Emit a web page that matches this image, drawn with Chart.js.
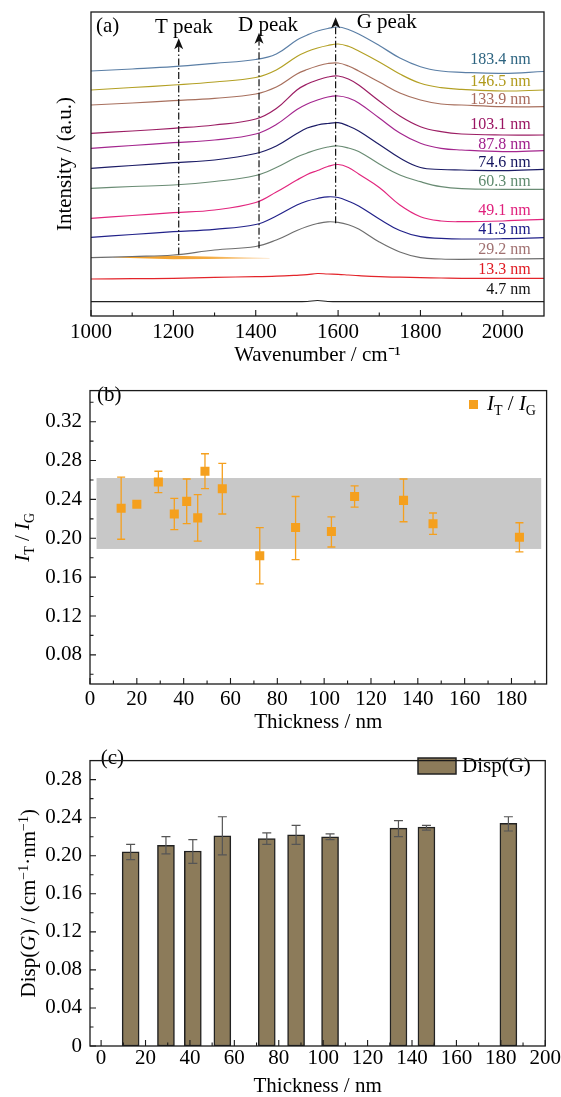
<!DOCTYPE html>
<html><head><meta charset="utf-8">
<script src="https://cdn.jsdelivr.net/npm/chart.js@4.4.1/dist/chart.umd.min.js"></script>
<style>
html,body{margin:0;padding:0;background:#fff;overflow:hidden;width:561px;height:1097px}
.wrap{position:absolute;left:0;width:561px}
canvas{display:block}
</style></head><body>
<div class="wrap" style="top:0;height:370px"><canvas id="ca" width="561" height="370"></canvas></div>
<div class="wrap" style="top:370px;height:370px"><canvas id="cb" width="561" height="370"></canvas></div>
<div class="wrap" style="top:740px;height:360px"><canvas id="cc" width="561" height="360"></canvas></div>
<script>
// ---------- DATA: panel (a) Raman spectra (stacked, arbitrary units) ----------
const wavenumber = [1000,1100,1200,1300,1400,1450,1500,1525,1550,1575,1600,1625,1650,1700,1750,1800,1850,1900,2000,2100];
const spectrumNames = ['183.4 nm','146.5 nm','133.9 nm','103.1 nm','87.8 nm','74.6 nm','60.3 nm','49.1 nm','41.3 nm','29.2 nm','13.3 nm','4.7 nm'];
const spec183_4 = [245,247,249.3,252.7,256.5,262,276,281,285,287.5,289,286.5,282,270.5,258,249.3,245,243.7,242.7,244.5];
const spec146_5 = [226,228.5,231,234,238.5,246,259.5,264.5,268,270.5,272,269.7,265,254,242,232.7,228.3,226.7,225,226];
const spec133_9 = [211,213,215.3,217.7,222,229,242,246.5,250,252.5,253,250,245,234,223,216,212,211,209.3,209.3];
const spec103_1 = [182.7,185,187.7,191,197,207.5,226,232,236,239,240,237,231,215,200,189.3,184.3,182,181,181];
const spec87_8  = [167.7,170.5,173.3,176,182,191.5,206.5,212,216,219,220,218,213,198,183,172.7,167.7,166,164.3,165.3];
const spec74_6  = [147.7,150.5,153.3,156,162.5,170,182.5,188,191,192.5,193.3,190,185,171.5,158,148.5,146.5,146,145.3,146.7];
const spec60_3  = [127.7,129.5,131,134.5,140.5,148.5,159,163,166.5,169,170,168,164.5,152,141,134.3,129.3,127.3,126.7,126.7];
const spec49_1  = [97.7,100.5,103.3,106,113.5,124,136,141.5,145.5,149.5,151.5,148.5,142,128.5,111,99.3,95,94.3,95,96.7];
const spec41_3  = [78.7,81.5,84.3,86.7,91.5,100,111,115,117.5,119.2,118.5,114.8,110,97,85.5,79.3,77.7,77,77.3,78.3];
const spec29_2  = [58.3,59.5,61,66,69.5,76,85.5,89.5,92.5,94.2,93.7,91.3,87,74,64,58.3,57,56.7,57,57.3];
const spec13_3  = [37,37.3,37.7,38.7,39.3,39.8,40.7,41.3,42.5,42,41.7,41,40.3,39.3,38.8,38.3,38,37.7,37.7,37.7];
const spec4_7   = [14.3,14.3,14.4,14.3,14.4,14.3,14.4,14.5,15.5,14.5,14.4,14.3,14.4,14.3,14.3,14.4,14.3,14.3,14.3,14.3];
const wedgeWn = [1054,1200,1434];
const wedgeTop = [58.8,60.3,58.0];
const wedgeBottom = [58.4,56.8,57.4];
const peakNames = ['T peak','D peak','G peak'];
const peakWn = [1213,1408,1594];
const peakLineFrom = [61.5,67.7,92.7];
const peakLineTo = [277.7,283.3,298.7];
const waveMajorTicks = [1000,1200,1400,1600,1800,2000];
const waveMinorTicks = [1100,1300,1500,1700,1900];

// ---------- DATA: panel (b) I_T / I_G ----------
const thicknessB = [13.3,20.0,29.2,36.0,41.3,46.0,49.1,56.5,72.5,87.8,103.1,113.0,133.9,146.5,183.4];
const ratioTG    = [0.231,0.235,0.258,0.225,0.238,0.221,0.269,0.251,0.182,0.211,0.207,0.243,0.239,0.215,0.201];
const ratioHigh  = [0.263,0.237,0.269,0.241,0.261,0.245,0.287,0.277,0.211,0.243,0.222,0.254,0.261,0.226,0.216];
const ratioLow   = [0.199,0.233,0.247,0.209,0.215,0.197,0.251,0.225,0.153,0.178,0.191,0.232,0.217,0.204,0.186];
const bandX = [2.8,192.7];
const bandY = [0.189,0.262];
const thickMajorB = [0,20,40,60,80,100,120,140,160,180];
const thickMinorB = [10,30,50,70,90,110,130,150,170,190];
const ratioMajor = [0.08,0.12,0.16,0.20,0.24,0.28,0.32];
const ratioMinor = [0.06,0.10,0.14,0.18,0.22,0.26,0.30,0.34];

// ---------- DATA: panel (c) Disp(G) ----------
const thicknessC = [13.3,29.2,41.3,54.6,74.6,87.8,103.1,133.9,146.5,183.4];
const dispG      = [0.204,0.211,0.205,0.221,0.218,0.222,0.220,0.229,0.230,0.234];
const dispHigh   = [0.212,0.220,0.217,0.241,0.224,0.232,0.223,0.237,0.232,0.241];
const dispLow    = [0.196,0.202,0.192,0.201,0.212,0.212,0.217,0.220,0.227,0.226];
const thickMajorC = [0,20,40,60,80,100,120,140,160,180,200];
const thickMinorC = [10,30,50,70,90,110,130,150,170,190];
const dispMajor = [0,0.04,0.08,0.12,0.16,0.20,0.24,0.28];
const dispMinor = [0.02,0.06,0.10,0.14,0.18,0.22,0.26];

// ---------- styles ----------
const FONT = "'Liberation Serif','Times New Roman',serif";
Chart.defaults.font.family = FONT;
Chart.defaults.font.size = 21;
Chart.defaults.color = '#000';
const spectra = [spec183_4,spec146_5,spec133_9,spec103_1,spec87_8,spec74_6,spec60_3,spec49_1,spec41_3,spec29_2,spec13_3,spec4_7];
const curveColors = ['#5b7fa6','#b3a024','#a8705e','#9c1e64','#a4268e','#1c1c66','#6a8c74','#e2267e','#22228a','#6e6e6e','#e3242a','#222222'];
const labelColors = ['#2d6480','#b09a1c','#a86a5c','#9a1462','#a0208c','#14145e','#5e8a6e','#e0207c','#1a1a86','#a07070','#e01a22','#111111'];
const labelY = [59.3,81.7,100,125,145,162.3,181.7,211,229.3,250,270,290];
const peakTextPos = [[155,27.3],[238,25],[356.7,22.7]];

function tickList(arr){ return arr.map(v=>({value:v})); }

function frameTicks(id, spec){
  return { id:'frame_'+id, afterDatasetsDraw(chart){
    const {ctx, chartArea:a, scales:{x,y}} = chart;
    ctx.save();
    ctx.strokeStyle = '#1a1a1a';
    ctx.lineWidth = 1.1;
    ctx.beginPath();
    (spec.xMajor||[]).forEach(v=>{const p=x.getPixelForValue(v); ctx.moveTo(p,a.bottom); ctx.lineTo(p,a.bottom-6);});
    (spec.xMinor||[]).forEach(v=>{const p=x.getPixelForValue(v); ctx.moveTo(p,a.bottom); ctx.lineTo(p,a.bottom-3.5);});
    (spec.yMajor||[]).forEach(v=>{const p=y.getPixelForValue(v); ctx.moveTo(a.left,p); ctx.lineTo(a.left+6,p);});
    (spec.yMinor||[]).forEach(v=>{const p=y.getPixelForValue(v); ctx.moveTo(a.left,p); ctx.lineTo(a.left+3.5,p);});
    ctx.stroke();
    ctx.lineWidth = 1.3;
    ctx.strokeRect(a.left, a.top, a.right-a.left, a.bottom-a.top);
    ctx.restore();
  }};
}

function drawRich(ctx, parts, x, y, o){
  const base = o.size;
  const fontOf = p => (p.it?'italic ':'') + ((p.sub||p.sup)? Math.round(base*0.66) : base) + 'px ' + FONT;
  let w = 0;
  parts.forEach(p=>{ ctx.font = fontOf(p); p.w = ctx.measureText(p.t).width; w += p.w; });
  ctx.save();
  ctx.translate(x,y);
  if (o.rot) ctx.rotate(o.rot);
  ctx.textBaseline = 'alphabetic'; ctx.textAlign = 'left';
  ctx.fillStyle = o.color || '#000';
  let cx = o.align==='center' ? -w/2 : 0;
  const by = base*0.34;
  parts.forEach(p=>{
    ctx.font = fontOf(p);
    let dy = by;
    if (p.sub) dy += base*0.22;
    if (p.sup) dy -= base*0.36;
    ctx.fillText(p.t, cx, dy);
    cx += p.w;
  });
  ctx.restore();
}

const common = { responsive:false, animation:false, devicePixelRatio:1, events:[],
  plugins:{ legend:{display:false}, tooltip:{enabled:false} } };

// ---------- Panel (a) ----------
const specDatasets = spectra.map((arr,i)=>({
  label: spectrumNames[i],
  data: wavenumber.map((x,j)=>({x, y:arr[j]})),
  borderColor: curveColors[i], borderWidth: 1.2, pointRadius: 0,
  tension: 0.4, fill: false, order: 1
}));
const wedgeSets = [
  { data: wedgeWn.map((x,j)=>({x,y:wedgeBottom[j]})), borderWidth:0, pointRadius:0, fill:false, order:5, borderColor:'rgba(0,0,0,0)' },
  { data: wedgeWn.map((x,j)=>({x,y:wedgeTop[j]})), borderWidth:0, pointRadius:0, fill:'-1', order:5, borderColor:'rgba(0,0,0,0)',
    backgroundColor: (c)=>{ const ch=c.chart; if(!ch.chartArea) return '#f0a020';
      const xs = ch.scales.x; const g = ch.ctx.createLinearGradient(xs.getPixelForValue(wedgeWn[0]),0,xs.getPixelForValue(wedgeWn[2]),0);
      g.addColorStop(0,'rgba(240,150,20,0.95)'); g.addColorStop(0.6,'rgba(242,160,40,0.9)'); g.addColorStop(1,'rgba(250,210,160,0.8)'); return g; } }
];

const annotA = { id:'annotA', afterDatasetsDraw(chart){
  const {ctx, scales:{x,y}} = chart;
  ctx.save();
  ctx.strokeStyle = '#111'; ctx.fillStyle = '#111'; ctx.lineWidth = 1.2;
  peakWn.forEach((wn,i)=>{
    const px = x.getPixelForValue(wn), y1 = y.getPixelForValue(peakLineFrom[i]), y2 = y.getPixelForValue(peakLineTo[i]);
    ctx.setLineDash([7,2.5,1.5,2.5]);
    ctx.beginPath(); ctx.moveTo(px,y1); ctx.lineTo(px,y2+7); ctx.stroke();
    ctx.setLineDash([]);
    ctx.beginPath(); ctx.moveTo(px,y2); ctx.lineTo(px-4.5,y2+11); ctx.lineTo(px,y2+8); ctx.lineTo(px+4.5,y2+11); ctx.closePath(); ctx.fill();
  });
  ctx.font = '21px '+FONT; ctx.textBaseline='middle'; ctx.textAlign='left'; ctx.fillStyle='#000';
  peakNames.forEach((t,i)=> ctx.fillText(t, peakTextPos[i][0], peakTextPos[i][1]));
  ctx.fillText('(a)', 96, 26.7);
  ctx.font = '16px '+FONT; ctx.textAlign='right';
  spectrumNames.forEach((t,i)=>{ ctx.fillStyle = labelColors[i]; ctx.fillText(t, 530.6, labelY[i]); });
  ctx.restore();
}};

new Chart(document.getElementById('ca'), {
  type:'line',
  data:{ datasets:[...specDatasets, ...wedgeSets] },
  options:{ ...common,
    layout:{ padding:{ top:12, right:17, left:0, bottom:0 } },
    scales:{
      x:{ type:'linear', min:1000, max:2100, grid:{display:false, drawTicks:false}, border:{display:false},
          afterBuildTicks:s=>{ s.ticks = tickList(waveMajorTicks); },
          ticks:{ padding:4, maxRotation:0, autoSkip:false, font:{size:21}, color:'#000', callback:v=>String(v) },
          title:{ display:true, text:'Wavenumber / cm⁻¹', font:{size:21}, color:'#000', padding:{top:0,bottom:2} },
          afterFit:s=>{ s.height = 54; } },
      y:{ type:'linear', min:0, max:304, grid:{display:false, drawTicks:false}, border:{display:false},
          ticks:{ display:false },
          title:{ display:true, text:'Intensity / (a.u.)', font:{size:21}, color:'#000', padding:{top:53,bottom:0} },
          afterFit:s=>{ s.width = 91; } }
    }
  },
  plugins:[ frameTicks('a',{ xMajor:waveMajorTicks, xMinor:waveMinorTicks }), annotA ]
});

// ---------- Panel (b) ----------
const bandErrB = { id:'bandErrB', beforeDatasetsDraw(chart){
  const {ctx, scales:{x,y}} = chart;
  ctx.save();
  ctx.fillStyle = '#c8c8c8';
  const x0 = x.getPixelForValue(bandX[0]), x1 = x.getPixelForValue(bandX[1]);
  const y0 = y.getPixelForValue(bandY[1]), y1 = y.getPixelForValue(bandY[0]);
  ctx.fillRect(x0,y0,x1-x0,y1-y0);
  ctx.strokeStyle = '#f5a01e'; ctx.lineWidth = 1.3;
  ctx.beginPath();
  thicknessB.forEach((t,i)=>{
    const px = x.getPixelForValue(t), pt = y.getPixelForValue(ratioHigh[i]), pb = y.getPixelForValue(ratioLow[i]);
    ctx.moveTo(px,pt); ctx.lineTo(px,pb);
    ctx.moveTo(px-4,pt); ctx.lineTo(px+4,pt);
    ctx.moveTo(px-4,pb); ctx.lineTo(px+4,pb);
  });
  ctx.stroke();
  ctx.restore();
}, afterDatasetsDraw(chart){
  const {ctx, chartArea:a} = chart;
  ctx.save();
  ctx.font = '21px '+FONT; ctx.textBaseline='middle'; ctx.textAlign='left'; ctx.fillStyle='#000';
  ctx.fillText('(b)', 97, 25);
  ctx.fillStyle = '#f5a01e'; ctx.fillRect(469,30,9,9);
  drawRich(ctx, [{t:'I',it:true},{t:'T',sub:true},{t:' / '},{t:'I',it:true},{t:'G',sub:true}], 487, 33, {size:21});
  drawRich(ctx, [{t:'I',it:true},{t:'T',sub:true},{t:' / '},{t:'I',it:true},{t:'G',sub:true}], 22, (a.top+a.bottom)/2, {size:21, rot:-Math.PI/2, align:'center'});
  ctx.restore();
}};

new Chart(document.getElementById('cb'), {
  type:'scatter',
  data:{ datasets:[{ label:'I_T / I_G', data: thicknessB.map((x,i)=>({x, y:ratioTG[i]})),
    pointStyle:'rect', pointRadius:6.4, backgroundColor:'#f5a01e', borderWidth:0 }] },
  options:{ ...common,
    layout:{ padding:{ top:9, right:14.4, left:0, bottom:0 } },
    scales:{
      x:{ type:'linear', min:0, max:195, grid:{display:false, drawTicks:false}, border:{display:false},
          afterBuildTicks:s=>{ s.ticks = tickList(thickMajorB); },
          ticks:{ padding:3, maxRotation:0, autoSkip:false, color:'#000', callback:v=>String(v) },
          title:{ display:true, text:'Thickness / nm', color:'#000', padding:{top:0,bottom:5} },
          afterFit:s=>{ s.height = 56; } },
      y:{ type:'linear', min:0.05, max:0.352, grid:{display:false, drawTicks:false}, border:{display:false},
          afterBuildTicks:s=>{ s.ticks = tickList(ratioMajor); },
          ticks:{ padding:8, autoSkip:false, color:'#000', callback:v=>v.toFixed(2) },
          afterFit:s=>{ s.width = 90; } }
    }
  },
  plugins:[ bandErrB, frameTicks('b',{ xMajor:thickMajorB, xMinor:thickMinorB, yMajor:ratioMajor, yMinor:ratioMinor }) ]
});

// ---------- Panel (c) ----------
const errC = { id:'errC', afterDatasetsDraw(chart){
  const {ctx, chartArea:a, scales:{x,y}} = chart;
  ctx.save();
  ctx.strokeStyle = '#555'; ctx.lineWidth = 1.2;
  ctx.beginPath();
  thicknessC.forEach((t,i)=>{
    const px = x.getPixelForValue(t), pt = y.getPixelForValue(dispHigh[i]), pb = y.getPixelForValue(dispLow[i]);
    ctx.moveTo(px,pt); ctx.lineTo(px,pb);
    ctx.moveTo(px-4.5,pt); ctx.lineTo(px+4.5,pt);
    ctx.moveTo(px-4.5,pb); ctx.lineTo(px+4.5,pb);
  });
  ctx.stroke();
  ctx.font = '21px '+FONT; ctx.textBaseline='middle'; ctx.textAlign='left'; ctx.fillStyle='#000';
  ctx.fillText('(c)', 100.7, 18.3);
  ctx.fillStyle = '#8c7b5a'; ctx.fillRect(418,18,38,16);
  ctx.strokeStyle = '#222'; ctx.lineWidth = 1.5; ctx.strokeRect(418,18,38,16);
  ctx.fillStyle = '#000';
  ctx.fillText(chart.data.datasets[0].label, 462, 26);
  drawRich(ctx, [{t:'Disp('},{t:'G',it:true},{t:') / (cm'},{t:'−1',sup:true},{t:'·nm'},{t:'−1',sup:true},{t:')'}], 28, (a.top+a.bottom)/2, {size:21, rot:-Math.PI/2, align:'center'});
  ctx.restore();
}};

new Chart(document.getElementById('cc'), {
  type:'bar',
  data:{ datasets:[{ label:'Disp(G)', data: thicknessC.map((x,i)=>({x, y:dispG[i]})),
    backgroundColor:'#8c7b5a', borderColor:'#222', borderWidth:1.5, borderSkipped:false, barThickness:17 }] },
  options:{ ...common,
    layout:{ padding:{ top:4, right:14.4, left:0, bottom:0 } },
    scales:{
      x:{ type:'linear', min:-5, max:200, offset:false, grid:{display:false, drawTicks:false, offset:false}, border:{display:false},
          afterBuildTicks:s=>{ s.ticks = tickList(thickMajorC); },
          ticks:{ padding:0, maxRotation:0, autoSkip:false, color:'#000', callback:v=>String(v) },
          title:{ display:true, text:'Thickness / nm', color:'#000', padding:{top:0,bottom:1} },
          afterFit:s=>{ s.height = 54; } },
      y:{ type:'linear', min:0, max:0.30, grid:{display:false, drawTicks:false}, border:{display:false},
          afterBuildTicks:s=>{ s.ticks = tickList(dispMajor); },
          ticks:{ padding:8, autoSkip:false, color:'#000', callback:v=> v===0 ? '0' : v.toFixed(2) },
          afterFit:s=>{ s.width = 90; } }
    }
  },
  plugins:[ errC, frameTicks('c',{ xMajor:thickMajorC, xMinor:thickMinorC, yMajor:dispMajor, yMinor:dispMinor }) ]
});
</script>
</body></html>
